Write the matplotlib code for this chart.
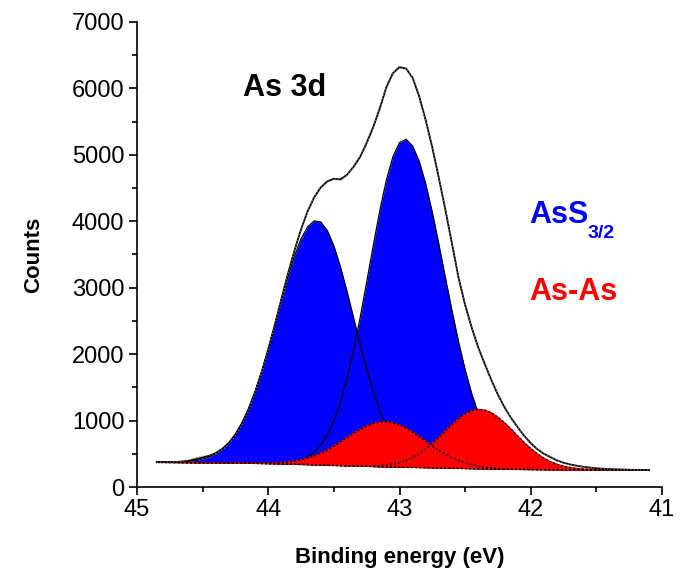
import numpy as np
import matplotlib.pyplot as plt
from matplotlib.ticker import MultipleLocator

plt.rcParams['font.family'] = ['Liberation Sans', 'DejaVu Sans']

# binding energy grid (eV), high -> low
energy = [44.85, 44.80, 44.75, 44.70, 44.65, 44.60, 44.55, 44.50, 44.45, 44.40,
          44.35, 44.30, 44.25, 44.20, 44.15, 44.10, 44.05, 44.00, 43.95, 43.90,
          43.85, 43.80, 43.75, 43.70, 43.65, 43.60, 43.55, 43.50, 43.45, 43.40,
          43.35, 43.30, 43.25, 43.20, 43.15, 43.10, 43.05, 43.00, 42.95, 42.90,
          42.85, 42.80, 42.75, 42.70, 42.65, 42.60, 42.55, 42.50, 42.45, 42.40,
          42.35, 42.30, 42.25, 42.20, 42.15, 42.10, 42.05, 42.00, 41.95, 41.90,
          41.85, 41.80, 41.75, 41.70, 41.65, 41.60, 41.55, 41.50, 41.45, 41.40,
          41.35, 41.30, 41.25, 41.20, 41.15, 41.10]

# background under the peaks
background = [372, 371, 370, 369, 368, 367, 366, 365, 364, 363,
              362, 361, 360, 359, 358, 356, 354, 352, 350, 348,
              346, 343, 340, 337, 334, 331, 328, 325, 322, 319,
              316, 313, 310, 307, 304, 302, 300, 298, 296, 294,
              292, 290, 288, 286, 284, 282, 280, 278, 276, 274,
              272, 270, 268, 267, 266, 265, 264, 263, 262, 261,
              260, 260, 259, 259, 258, 258, 257, 257, 257, 256,
              256, 256, 256, 255, 255, 255]

# AsS3/2 components (counts above background)
ass_high = [1, 2, 3, 6, 11, 20, 33, 55, 88, 137,
            206, 304, 433, 605, 820, 1079, 1381, 1720, 2084, 2455,
            2812, 3134, 3397, 3581, 3672, 3659, 3533, 3304, 2993, 2626,
            2232, 1837, 1465, 1132, 847, 614, 431, 293, 193, 123,
            76, 45, 26, 15, 8, 4, 2, 1, 0, 0,
            0, 0, 0, 0, 0, 0, 0, 0, 0, 0,
            0, 0, 0, 0, 0, 0, 0, 0, 0, 0,
            0, 0, 0, 0, 0, 0]
ass_low = [0, 0, 0, 0, 0, 0, 0, 0, 0, 0,
           0, 0, 0, 0, 0, 0, 1, 3, 6, 12,
           22, 39, 68, 116, 189, 298, 454, 669, 952, 1309,
           1740, 2235, 2775, 3328, 3857, 4319, 4673, 4886, 4939, 4840,
           4612, 4273, 3847, 3368, 2865, 2370, 1905, 1488, 1131, 835,
           599, 418, 284, 187, 120, 75, 45, 27, 15, 8,
           4, 2, 1, 0, 0, 0, 0, 0, 0, 0,
           0, 0, 0, 0, 0, 0]

# As-As components (counts above background)
asas_high = [0, 0, 0, 0, 0, 0, 0, 0, 0, 0,
             0, 0, 1, 1, 2, 3, 5, 8, 13, 21,
             32, 48, 70, 98, 135, 179, 232, 292, 358, 426,
             494, 556, 610, 650, 674, 680, 666, 636, 590, 532,
             467, 399, 331, 267, 210, 160, 119, 86, 60, 41,
             27, 18, 11, 7, 4, 2, 1, 0, 0, 0,
             0, 0, 0, 0, 0, 0, 0, 0, 0, 0,
             0, 0, 0, 0, 0, 0]
asas_low = [0, 0, 0, 0, 0, 0, 0, 0, 0, 0,
            0, 0, 0, 0, 0, 0, 0, 0, 0, 0,
            0, 0, 0, 0, 0, 0, 0, 0, 0, 1,
            2, 3, 6, 10, 17, 28, 45, 70, 104, 150,
            210, 283, 368, 463, 563, 661, 751, 824, 873, 894,
            885, 847, 782, 699, 603, 503, 405, 315, 237, 172,
            121, 82, 54, 34, 21, 12, 7, 4, 2, 1,
            0, 0, 0, 0, 0, 0]

# envelope and measured spectrum
envelope = [372, 374, 375, 378, 384, 398, 420, 445, 470, 510,
            575, 665, 790, 960, 1170, 1430, 1730, 2070, 2440, 2830,
            3210, 3560, 3880, 4150, 4360, 4510, 4600, 4640, 4630, 4700,
            4820, 4970, 5180, 5420, 5700, 6020, 6230, 6320, 6300, 6160,
            5880, 5520, 5110, 4650, 4170, 3660, 3150, 2740, 2400, 2100,
            1850, 1610, 1390, 1200, 1040, 900, 770, 660, 570, 500,
            450, 400, 365, 340, 320, 305, 292, 282, 275, 270,
            266, 263, 260, 258, 256, 255]
measured = [372, 376, 374, 380, 388, 410, 440, 462, 478, 505,
            560, 650, 775, 945, 1150, 1420, 1720, 2060, 2440, 2820,
            3200, 3555, 3875, 4150, 4365, 4520, 4610, 4650, 4615, 4690,
            4830, 4980, 5170, 5410, 5690, 6030, 6240, 6330, 6305, 6170,
            5870, 5510, 5120, 4640, 4180, 3650, 3160, 2730, 2410, 2090,
            1860, 1600, 1395, 1190, 1045, 895, 775, 655, 575, 495,
            455, 395, 368, 338, 322, 303, 294, 280, 276, 269,
            267, 262, 261, 257, 256, 254]

x = np.array(energy)
bg = np.array(background)

fig = plt.figure(figsize=(6.84, 5.8), dpi=100)
ax = fig.add_axes([137 / 684, 1 - 487 / 580, 525 / 684, 465 / 580])

# blue AsS3/2 peaks
for comp in (ass_high, ass_low):
    top = bg + np.array(comp)
    ax.fill_between(x, bg, top, color="#0000FF", linewidth=0, zorder=2)
for comp in (ass_high, ass_low):
    top = bg + np.array(comp)
    ax.plot(x, top, color="black", linewidth=0.9, zorder=3)

# red As-As peaks
for comp in (asas_high, asas_low):
    top = bg + np.array(comp)
    ax.fill_between(x, bg, top, color="#FF0000", linewidth=0, zorder=4)
for comp in (asas_high, asas_low):
    top = bg + np.array(comp)
    ax.plot(x, top, color="#FF0000", linewidth=1.0, zorder=5)
    ax.plot(x, top, color="black", linewidth=1.0, linestyle=(0, (1.5, 1.5)), zorder=6)

ax.plot(x, bg, color="black", linewidth=1.0, linestyle=(0, (1.5, 1.5)), zorder=6)
ax.plot(x, envelope, color="black", linewidth=1.3, zorder=7)
ax.plot(x, measured, color="0.45", linewidth=0.9, linestyle=":", zorder=8)

ax.set_xlim(45, 41)
ax.set_ylim(0, 7000)
ax.xaxis.set_major_locator(MultipleLocator(1))
ax.xaxis.set_minor_locator(MultipleLocator(0.5))
ax.yaxis.set_major_locator(MultipleLocator(1000))
ax.yaxis.set_minor_locator(MultipleLocator(500))
ax.tick_params(which="major", direction="out", length=6, width=1.2, labelsize=17, pad=3)
ax.tick_params(which="minor", direction="out", length=3.5, width=1.2)

for side in ("top", "right"):
    ax.spines[side].set_visible(False)
for side in ("left", "bottom"):
    ax.spines[side].set_linewidth(1.2)

ax.set_xlabel("Binding energy (eV)", fontsize=16, fontweight="bold", labelpad=18)
ax.set_ylabel("Counts", fontsize=16, fontweight="bold", labelpad=20)

# annotations
ax.text(44.19, 5880, "As 3d", fontsize=22, fontweight="bold", color="black",
        ha="left", va="baseline")
ax.text(42.01, 3976, "AsS", fontsize=22, fontweight="bold", color="#0000FF",
        ha="left", va="baseline")
ax.text(41.565, 3750, "3/2", fontsize=14, fontweight="bold", color="#0000FF",
        ha="left", va="baseline")
ax.text(42.01, 2816, "As-As", fontsize=22, fontweight="bold", color="#FF0000",
        ha="left", va="baseline")

fig.savefig("out.png", dpi=100)
